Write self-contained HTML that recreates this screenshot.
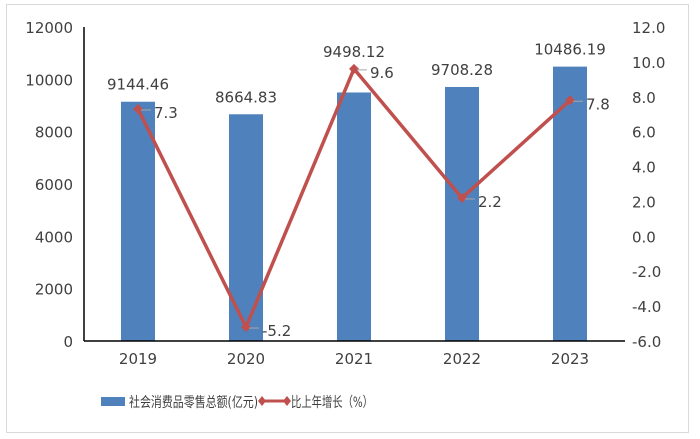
<!DOCTYPE html>
<html><head><meta charset="utf-8"><style>
body{margin:0;background:#fff;}
svg{display:block;font-family:"DejaVu Sans","Liberation Sans","Noto Sans CJK SC",sans-serif;}
</style></head><body>
<svg id="c" width="700" height="439" viewBox="0 0 700 439">
<rect x="6.5" y="4.5" width="682" height="428" fill="#fff" stroke="#d9d9d9"/>
<g id="g"></g>
</svg>
<script>
const categories=["2019","2020","2021","2022","2023"];
const salesValues=[9144.46,8664.83,9498.12,9708.28,10486.19];
const salesLabels=["9144.46","8664.83","9498.12","9708.28","10486.19"];
const growthValues=[7.3,-5.2,9.6,2.2,7.8];
const growthLabels=["7.3","-5.2","9.6","2.2","7.8"];
const leftTicks=[0,2000,4000,6000,8000,10000,12000];
const rightTicks=["-6.0","-4.0","-2.0","0.0","2.0","4.0","6.0","8.0","10.0","12.0"];
const NS="http://www.w3.org/2000/svg";
const g=document.getElementById('g');
const x0=84,x1=624,yTop=27,yBot=341;
const band=(x1-x0)/categories.length;
const xc=i=>x0+band*(i+0.5);
const yL=v=>yBot-(v/12000)*(yBot-yTop);
const yR=v=>yBot-((v+6)/18)*(yBot-yTop);
function mk(t,a){const e=document.createElementNS(NS,t);for(const k in a)e.setAttribute(k,a[k]);g.appendChild(e);return e;}
leftTicks.forEach(v=>{const t=mk('text',{x:73,y:yL(v)+6,'text-anchor':'end','font-size':15,fill:'#404040'});t.textContent=v;

});
rightTicks.forEach(s=>{const v=parseFloat(s);const t=mk('text',{x:632,y:yR(v)+6,'font-size':15,fill:'#404040'});t.textContent=s;

});
categories.forEach((c,i)=>{
const h=yBot-yL(salesValues[i]);
const b=mk('rect',{x:xc(i)-17,y:yL(salesValues[i]),width:34,height:h,fill:'#4f81bd'});


let ly=yL(salesValues[i])-12;
const py=yR(growthValues[i]);
if(py<ly+6&&py>ly-30) ly=py-12;
const l=mk('text',{x:xc(i),y:ly,'text-anchor':'middle','font-size':15,fill:'#404040'});l.textContent=salesLabels[i];


const t=mk('text',{x:xc(i),y:yBot+23,'text-anchor':'middle','font-size':15,fill:'#404040'});t.textContent=c;


});
const ax=mk('line',{x1:x0,y1:yTop,x2:x0,y2:yBot,stroke:'#000','stroke-width':1.5});


const xa=mk('line',{x1:x0,y1:yBot,x2:x1+1,y2:yBot,stroke:'#000','stroke-width':1.5});


const pts=growthValues.map((v,i)=>xc(i)+','+yR(v)).join(' ');
const pl=mk('polyline',{points:pts,fill:'none',stroke:'#c0504d','stroke-width':3.5});


growthValues.forEach((v,i)=>{
const x=xc(i),y=yR(v);
const m=mk('polygon',{points:`${x},${y-5} ${x+5},${y} ${x},${y+5} ${x-5},${y}`,fill:'#c0504d'});


const ld=mk('line',{x1:x+3,y1:y+1,x2:x+13,y2:y+1,stroke:'#a6a6a6','stroke-width':1});


const t=mk('text',{x:x+16,y:y+9,'font-size':15,fill:'#404040'});t.textContent=growthLabels[i];


});
const lb=mk('rect',{x:101,y:397,width:24,height:9,fill:'#4f81bd'});


const lt=mk('text',{x:129,y:407,'font-size':14,fill:'#404040',textLength:129,lengthAdjust:'spacingAndGlyphs'});lt.textContent='社会消费品零售总额(亿元)';


const ll=mk('line',{x1:262,y1:401,x2:287,y2:401,stroke:'#c0504d','stroke-width':3});


[262,287].forEach(x=>{const d=mk('polygon',{points:`${x},396 ${x+4},401 ${x},406 ${x-4},401`,fill:'#c0504d'});

});
const lt2=mk('text',{x:291,y:407,'font-size':14,fill:'#404040',textLength:82,lengthAdjust:'spacingAndGlyphs'});lt2.textContent='比上年增长（%）';


</script>
</body></html>
